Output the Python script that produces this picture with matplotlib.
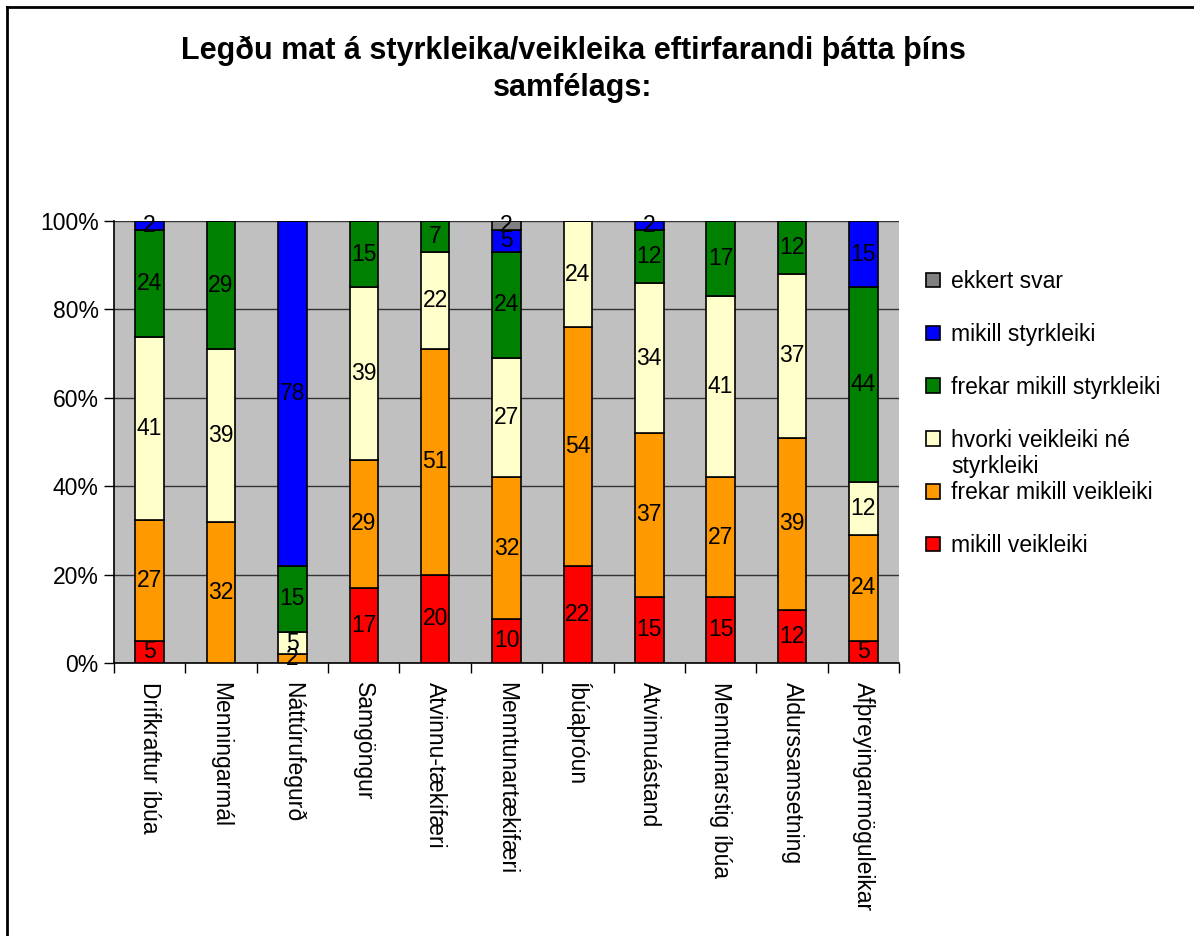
import matplotlib as mpl
mpl.use('Agg')

import numpy as np
import matplotlib.pyplot as plt
from matplotlib.lines import Line2D
from matplotlib.ticker import PercentFormatter
from matplotlib.transforms import ScaledTranslation

plt.rcParams['font.family'] = ['Liberation Sans', 'DejaVu Sans']

categories = ['Drifkraftur íbúa', 'Menningarmál', 'Náttúrufegurð', 'Samgöngur',
              'Atvinnu-tækifæri', 'Menntunartækifæri', 'Íbúaþróun', 'Atvinnuástand',
              'Menntunarstig íbúa', 'Aldurssamsetning', 'Afþreyingarmöguleikar']

series_names = ['mikill veikleiki', 'frekar mikill veikleiki',
                'hvorki veikleiki né styrkleiki', 'frekar mikill styrkleiki',
                'mikill styrkleiki', 'ekkert svar']

mikill_veikleiki = [5, 0, 0, 17, 20, 10, 22, 15, 15, 12, 5]
frekar_veikleiki = [27, 32, 2, 29, 51, 32, 54, 37, 27, 39, 24]
hvorki = [41, 39, 5, 39, 22, 27, 24, 34, 41, 37, 12]
frekar_styrkleiki = [24, 29, 15, 15, 7, 24, 0, 12, 17, 12, 44]
mikill_styrkleiki = [2, 0, 78, 0, 0, 5, 0, 2, 0, 0, 15]
ekkert_svar = [0, 0, 0, 0, 0, 2, 0, 0, 0, 0, 0]

colors = ['#FF0000', '#FF9900', '#FFFFCC', '#008000', '#0000FF', '#808080']

series = [mikill_veikleiki, frekar_veikleiki, hvorki,
          frekar_styrkleiki, mikill_styrkleiki, ekkert_svar]

FS = 16.5


def main():
    values = np.array(series, dtype=float)
    totals = values.sum(axis=0)
    shares = values / totals

    fig = plt.figure(figsize=(11.94, 9.36), dpi=100)
    ax = fig.add_axes([114 / 1194, 1 - 663 / 936, 785 / 1194, 442 / 936])
    ax.set_facecolor('#C0C0C0')

    x = np.arange(len(categories))
    bottom = np.zeros(len(categories))
    handles = []
    for vals, share, name, col in zip(values, shares, series_names, colors):
        bars = ax.bar(x, share, 0.4, bottom=bottom, color=col,
                      edgecolor='black', linewidth=1.2, label=name, zorder=3)
        labels = ['%d' % v if v > 0 else '' for v in vals]
        ax.bar_label(bars, labels=labels, label_type='center', fontsize=FS,
                     color='black', zorder=4)
        bottom += share
        handles.append(bars)

    ax.set_xlim(-0.5, len(categories) - 0.5)
    ax.set_ylim(0, 1)
    ax.set_yticks(np.arange(0, 1.01, 0.2))
    ax.yaxis.set_major_formatter(PercentFormatter(1.0, decimals=0))
    ax.yaxis.grid(True, color='#333333', linewidth=1.0)
    ax.set_axisbelow(True)

    ax.set_xticks(np.arange(len(categories) + 1) - 0.5)
    ax.set_xticklabels([])
    ax.set_xticks(x, minor=True)
    ax.set_xticklabels(categories, minor=True, rotation=270, fontsize=FS,
                       va='top', ha='center')
    shift = ScaledTranslation(-5 / 100, 0, fig.dpi_scale_trans)
    for lab in ax.get_xticklabels(minor=True):
        lab.set_transform(lab.get_transform() + shift)
    ax.tick_params(axis='x', which='minor', length=0, pad=14)
    ax.tick_params(axis='x', which='major', length=7, width=1, color='black')
    ax.tick_params(axis='y', length=7, width=1, labelsize=FS, pad=4)

    for s in ['top', 'right']:
        ax.spines[s].set_visible(False)
    for s in ['left', 'bottom']:
        ax.spines[s].set_color('black')
        ax.spines[s].set_linewidth(1.2)

    fig.text(573 / 1194, 1 - 69 / 936,
             'Legðu mat á styrkleika/veikleika eftirfarandi þátta þíns\nsamfélags:',
             ha='center', va='center', fontsize=22, fontweight='bold',
             linespacing=1.3)

    # legend rows evenly spaced; the long entry wraps below its own row
    leg_names = [n.replace(' styrkleiki', '') if n.startswith('hvorki') else n
                 for n in series_names]
    leg = fig.legend(handles[::-1], leg_names[::-1], loc='upper left',
                     bbox_to_anchor=(917 / 1194, 1 - 261 / 936), frameon=False,
                     fontsize=FS, handlelength=0.6, handleheight=0.6,
                     handletextpad=0.5, labelspacing=1.3, borderaxespad=0)

    fig.canvas.draw()
    for t in leg.get_texts():
        if t.get_text().startswith('hvorki'):
            bb = t.get_window_extent()
            fig.text(bb.x0 / fig.bbox.width, (bb.y0 - 26) / fig.bbox.height,
                     'styrkleiki', ha='left', va='bottom', fontsize=FS)

    fig.add_artist(Line2D([7 / 1194, 7 / 1194], [0, 1 - 7 / 936],
                          transform=fig.transFigure, color='black', linewidth=2))
    fig.add_artist(Line2D([7 / 1194, 1], [1 - 7 / 936, 1 - 7 / 936],
                          transform=fig.transFigure, color='black', linewidth=2))

    fig.savefig('out.png', dpi=100)


if __name__ == '__main__':
    main()
